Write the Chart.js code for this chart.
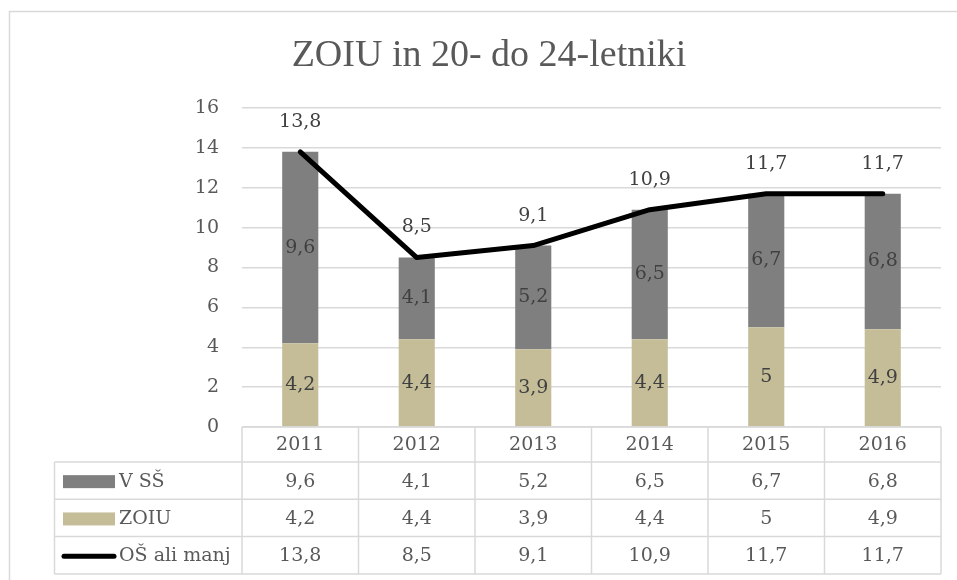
<!DOCTYPE html>
<html>
<head>
<meta charset="utf-8">
<script src="https://cdn.jsdelivr.net/npm/chart.js@4/dist/chart.umd.min.js"></script>
<style>
  html, body { margin: 0; padding: 0; background: #ffffff; }
  #wrap { width: 957px; height: 580px; position: relative; }
</style>
</head>
<body>
<div id="wrap"><canvas id="c" width="957" height="580"></canvas></div>
<script>
// ---- data ----
const title = "ZOIU in 20- do 24-letniki";
const categories = ["2011", "2012", "2013", "2014", "2015", "2016"];
const seriesNames = ["V SŠ", "ZOIU", "OŠ ali manj"];
const vSS = [9.6, 4.1, 5.2, 6.5, 6.7, 6.8];
const zoiu = [4.2, 4.4, 3.9, 4.4, 5, 4.9];
const osAliManj = [13.8, 8.5, 9.1, 10.9, 11.7, 11.7];
const yTicks = [0, 2, 4, 6, 8, 10, 12, 14, 16];

// ---- style ----
const FONT = "'DejaVu Serif', 'Liberation Serif', serif";
const TXT = "#595959";
const DARK = "#404040";
const GRID = "#d9d9d9";
const C_GRAY = "#7f7f7f";
const C_TAN = "#c4bd97";

const fmt = v => String(v).replace('.', ',');

const decorPlugin = {
  id: 'decor',
  beforeDraw(chart) {
    const ctx = chart.ctx;
    ctx.save();
    ctx.fillStyle = '#ffffff';
    ctx.fillRect(0, 0, chart.width, chart.height);
    ctx.strokeStyle = GRID;
    ctx.lineWidth = 1.5;
    ctx.strokeRect(9.5, 11.5, chart.width + 20, chart.height + 20);
    // title
    ctx.fillStyle = TXT;
    ctx.font = "38px 'Liberation Serif', serif";
    ctx.textAlign = 'center';
    ctx.textBaseline = 'alphabetic';
    ctx.fillText(title, 489, 66);
    ctx.restore();
  },
  afterDatasetsDraw(chart) {
    const ctx = chart.ctx;
    ctx.save();
    ctx.font = "19px " + FONT;
    ctx.textAlign = 'center';
    ctx.textBaseline = 'middle';
    chart.data.datasets.forEach((ds, di) => {
      const meta = chart.getDatasetMeta(di);
      ctx.fillStyle = DARK;
      if (ds.type === 'line') {
        meta.data.forEach((pt, i) => {
          ctx.fillText(fmt(ds.data[i]), pt.x, pt.y - 30);
        });
      } else {
        meta.data.forEach((bar, i) => {
          ctx.fillText(fmt(ds.data[i]), bar.x, (bar.y + bar.base) / 2);
        });
      }
    });
    ctx.restore();
  },
  afterDraw(chart) {
    // data table below the plot
    const ctx = chart.ctx;
    const xs = chart.scales.x;
    const area = chart.chartArea;
    const step = (area.right - area.left) / categories.length;
    const top = area.bottom;
    const headerH = 35;
    const rowH = 37.3;
    const tableLeft = 54.5;
    ctx.save();
    ctx.strokeStyle = GRID;
    ctx.lineWidth = 1.5;
    ctx.beginPath();
    ctx.moveTo(area.left, top); ctx.lineTo(area.right, top);
    for (let i = 0; i <= categories.length; i++) {
      const x = area.left + i * step;
      ctx.moveTo(x, top); ctx.lineTo(x, top + headerH + rowH * 3);
    }
    for (let r = 0; r <= 3; r++) {
      const y = top + headerH + r * rowH;
      ctx.moveTo(tableLeft, y); ctx.lineTo(area.right, y);
    }
    ctx.moveTo(tableLeft, top + headerH); ctx.lineTo(tableLeft, top + headerH + 3 * rowH);
    ctx.stroke();

    ctx.font = "19px " + FONT;
    ctx.fillStyle = TXT;
    ctx.textAlign = 'center';
    ctx.textBaseline = 'middle';
    categories.forEach((c, i) => {
      ctx.fillText(c, xs.getPixelForValue(i), top + headerH / 2 + 1);
    });
    const rows = [vSS, zoiu, osAliManj];
    rows.forEach((vals, r) => {
      const cy = top + headerH + r * rowH + rowH / 2 + 1;
      vals.forEach((v, i) => {
        ctx.fillText(fmt(v), xs.getPixelForValue(i), cy);
      });
      if (r < 2) {
        ctx.fillStyle = r === 0 ? C_GRAY : C_TAN;
        ctx.fillRect(63, cy - 6.5, 52, 13);
      } else {
        ctx.strokeStyle = '#000000';
        ctx.lineWidth = 5;
        ctx.lineCap = 'round';
        ctx.beginPath();
        ctx.moveTo(64, cy); ctx.lineTo(114, cy);
        ctx.stroke();
      }
      ctx.fillStyle = TXT;
      ctx.textAlign = 'left';
      ctx.fillText(seriesNames[r], 119, cy);
      ctx.textAlign = 'center';
    });
    ctx.restore();
  }
};

new Chart(document.getElementById('c'), {
  data: {
    labels: categories,
    datasets: [
      {
        type: 'line', label: seriesNames[2], data: osAliManj, stack: 'line',
        borderColor: '#000000', borderWidth: 5, pointRadius: 0, pointHoverRadius: 0,
        tension: 0, borderCapStyle: 'round', borderJoinStyle: 'round', fill: false
      },
      {
        type: 'bar', label: seriesNames[1], data: zoiu, stack: 'bars',
        backgroundColor: C_TAN, categoryPercentage: 1, barPercentage: 0.31
      },
      {
        type: 'bar', label: seriesNames[0], data: vSS, stack: 'bars',
        backgroundColor: C_GRAY, categoryPercentage: 1, barPercentage: 0.31
      }
    ]
  },
  options: {
    responsive: false,
    animation: false,
    devicePixelRatio: 1,
    layout: { padding: { left: 0, right: 16, top: 108, bottom: 153 } },
    plugins: { legend: { display: false }, title: { display: false }, tooltip: { enabled: false } },
    scales: {
      x: { display: false, offset: true },
      y: {
        stacked: true, min: 0, max: 16,
        afterBuildTicks: s => { s.ticks = yTicks.map(v => ({ value: v })); },
        afterFit: s => { s.width = 242; },
        grid: { color: GRID, lineWidth: 1.5, drawTicks: false },
        border: { display: false },
        ticks: { color: TXT, padding: 23, font: { family: FONT, size: 19 } }
      }
    }
  },
  plugins: [decorPlugin]
});
</script>
</body>
</html>
